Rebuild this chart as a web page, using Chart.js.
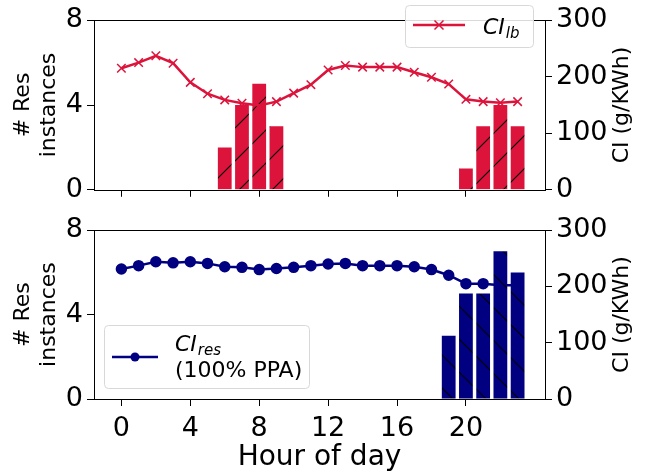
<!DOCTYPE html>
<html>
<head>
<meta charset="utf-8">
<script src="https://cdn.jsdelivr.net/npm/chart.js@4.4.0/dist/chart.umd.min.js"></script>
<style>
  html, body { margin: 0; padding: 0; background: #fff; }
  #wrap { position: relative; width: 662px; height: 472px; }
  canvas { position: absolute; left: 0; }
  #chartTop { top: 0; }
  #chartBottom { top: 210px; }
</style>
</head>
<body>
<div id="wrap">
  <canvas id="chartTop" width="662" height="210"></canvas>
  <canvas id="chartBottom" width="662" height="262"></canvas>
</div>
<script>
// ------- data -------
const hours = [0, 1, 2, 3, 4, 5, 6, 7, 8, 9, 10, 11, 12, 13, 14, 15, 16, 17, 18, 19, 20, 21, 22, 23]
const xTicks = [0, 4, 8, 12, 16, 20]
const countTicks = [0, 4, 8]
const ciTicks = [0, 100, 200, 300]

const lbInstances = [0, 0, 0, 0, 0, 0, 2, 4, 5, 3, 0, 0, 0, 0, 0, 0, 0, 0, 0, 0, 1, 3, 4, 3]
const lbCI = [215, 225, 237, 224, 190, 170, 159, 153, 149, 156, 171, 186, 212, 220, 217, 217, 217, 208, 199, 187, 160, 156, 154, 156]

const resInstances = [0, 0, 0, 0, 0, 0, 0, 0, 0, 0, 0, 0, 0, 0, 0, 0, 0, 0, 0, 3, 5, 5, 7, 6]
const resCI = [231, 237, 244, 242, 244, 241, 235, 234, 230, 232, 234, 237, 240, 241, 237, 237, 237, 235, 230, 220, 205, 205, 202, 202]

const CRIMSON = '#dc143c'
const NAVY = '#000080'

Chart.defaults.font.family = "'DejaVu Sans', sans-serif"
Chart.defaults.color = '#000'

// hatched fill, like matplotlib '/' and '\\'
function hatch(ctx, color, dir) {
  const P = 33
  const c = document.createElement('canvas')
  c.width = P
  c.height = P
  const g = c.getContext('2d')
  g.fillStyle = color
  g.fillRect(0, 0, P, P)
  g.strokeStyle = '#000'
  g.lineWidth = 1.1
  g.beginPath()
  for (const o of [-P, 0, P]) {
    if (dir === '/') { g.moveTo(o, P); g.lineTo(o + P, 0) }
    else { g.moveTo(o, 0); g.lineTo(o + P, P) }
  }
  g.stroke()
  return ctx.createPattern(c, 'repeat')
}

const pts = vals => hours.map((h, i) => ({ x: h, y: vals[i] }))

// frame, right axis title and the legend box
const decor = {
  id: 'decor',
  afterDraw(chart, args, o) {
    const { ctx, chartArea: a } = chart
    ctx.save()
    ctx.strokeStyle = '#000'
    ctx.lineWidth = 1
    ctx.strokeRect(Math.round(a.left) + 0.5, Math.round(a.top) + 0.5, Math.round(a.right - a.left), Math.round(a.bottom - a.top))

    // right title, reading upwards
    ctx.translate(622, (a.top + a.bottom) / 2)
    ctx.rotate(-Math.PI / 2)
    ctx.font = "22px 'DejaVu Sans'"
    ctx.fillStyle = '#000'
    ctx.textAlign = 'center'
    ctx.textBaseline = 'middle'
    ctx.fillText('CI (g/KWh)', 0, 0)
    ctx.restore()

    const L = o.legend
    ctx.save()
    ctx.beginPath()
    ctx.roundRect(L.x + 0.5, L.y + 0.5, L.w, L.h, 4)
    ctx.fillStyle = 'rgba(255,255,255,0.85)'
    ctx.fill()
    ctx.strokeStyle = '#d8d8d8'
    ctx.lineWidth = 1
    ctx.stroke()

    ctx.strokeStyle = L.color
    ctx.lineWidth = 2.5
    ctx.beginPath()
    ctx.moveTo(L.lx0, L.ly)
    ctx.lineTo(L.lx1, L.ly)
    ctx.stroke()
    const mx = (L.lx0 + L.lx1) / 2
    if (L.marker === 'x') {
      ctx.lineWidth = 1.5
      ctx.beginPath()
      ctx.moveTo(mx - 4.5, L.ly - 4.5); ctx.lineTo(mx + 4.5, L.ly + 4.5)
      ctx.moveTo(mx - 4.5, L.ly + 4.5); ctx.lineTo(mx + 4.5, L.ly - 4.5)
      ctx.stroke()
    } else {
      ctx.fillStyle = L.color
      ctx.beginPath()
      ctx.arc(mx, L.ly, 4.5, 0, Math.PI * 2)
      ctx.fill()
    }

    ctx.fillStyle = '#000'
    ctx.textBaseline = 'alphabetic'
    ctx.textAlign = 'left'
    ctx.font = "italic 22px 'DejaVu Sans'"
    ctx.fillText(L.text, L.tx, L.ty)
    const w = ctx.measureText(L.text).width
    ctx.font = "italic 15px 'DejaVu Sans'"
    ctx.fillText(L.sub, L.tx + w + 1, L.ty + 4)
    if (L.extra) {
      ctx.font = "22px 'DejaVu Sans'"
      ctx.fillText(L.extra, L.tx, L.ty + 26)
    }
    ctx.restore()
  }
}

function makeOptions(showX, padTop, xHeight, legend) {
  return {
    responsive: false,
    animation: false,
    events: [],
    layout: { padding: { top: padTop, left: 0, right: 0, bottom: 0 } },
    plugins: { legend: { display: false }, tooltip: { enabled: false }, decor: { legend } },
    scales: {
      x: {
        type: 'linear',
        min: -1.59,
        max: 24.59,
        offset: false,
        afterBuildTicks: s => { s.ticks = xTicks.map(v => ({ value: v })) },
        afterFit: s => { s.height = xHeight },
        grid: { offset: false, drawOnChartArea: false, drawTicks: true, tickLength: 7, color: '#000' },
        border: { display: false },
        ticks: { display: showX, font: { size: 27 }, padding: 7, maxRotation: 0, autoSkip: false },
        title: { display: showX, text: 'Hour of day', font: { size: 28 }, padding: { top: 0, bottom: -3 } }
      },
      y: {
        position: 'left',
        min: 0,
        max: 8,
        afterBuildTicks: s => { s.ticks = countTicks.map(v => ({ value: v })) },
        afterFit: s => { s.width = 94 },
        grid: { drawOnChartArea: false, drawTicks: true, tickLength: 7, color: '#000' },
        border: { display: false },
        ticks: { font: { size: 27 }, padding: 4 },
        title: { display: true, text: ['# Res', 'instances'], font: { size: 22 }, padding: { top: 10, bottom: 0 } }
      },
      y1: {
        position: 'right',
        min: 0,
        max: 300,
        afterBuildTicks: s => { s.ticks = ciTicks.map(v => ({ value: v })) },
        afterFit: s => { s.width = 117 },
        grid: { drawOnChartArea: false, drawTicks: true, tickLength: 7, color: '#000' },
        border: { display: false },
        ticks: { font: { size: 27 }, padding: 4 }
      }
    }
  }
}

const ctxTop = document.getElementById('chartTop').getContext('2d')
const ctxBottom = document.getElementById('chartBottom').getContext('2d')

const chartTop = new Chart(ctxTop, {
  type: 'bar',
  data: {
    datasets: [{
      type: 'line',
      label: 'CI_lb',
      data: pts(lbCI),
      yAxisID: 'y1',
      borderColor: CRIMSON,
      borderWidth: 2.5,
      pointStyle: 'crossRot',
      pointRadius: 6,
      pointBorderWidth: 1.5,
      pointBorderColor: CRIMSON,
      tension: 0,
      order: 0
    }, {
      label: 'Res instances',
      data: pts(lbInstances),
      yAxisID: 'y',
      backgroundColor: hatch(ctxTop, CRIMSON, '/'),
      borderWidth: 0,
      barPercentage: 0.8,
      categoryPercentage: 1,
      order: 1
    }]
  },
  options: makeOptions(false, 18, 20, {
    x: 405, y: 5, w: 128, h: 42, color: CRIMSON, marker: 'x',
    lx0: 413, lx1: 465, ly: 25, tx: 483, ty: 34, text: 'CI', sub: 'lb'
  }),
  plugins: [decor]
})

const chartBottom = new Chart(ctxBottom, {
  type: 'bar',
  data: {
    datasets: [{
      type: 'line',
      label: 'CI_res',
      data: pts(resCI),
      yAxisID: 'y1',
      borderColor: NAVY,
      borderWidth: 2.5,
      pointStyle: 'circle',
      pointRadius: 4.5,
      pointBackgroundColor: NAVY,
      pointBorderColor: NAVY,
      tension: 0,
      order: 1
    }, {
      label: 'Res instances',
      data: pts(resInstances),
      yAxisID: 'y',
      backgroundColor: hatch(ctxBottom, NAVY, '\\'),
      borderWidth: 0,
      barPercentage: 0.8,
      categoryPercentage: 1,
      order: 0
    }]
  },
  options: makeOptions(true, 16, 73, {
    x: 104, y: 115, w: 205, h: 63, color: NAVY, marker: 'o',
    lx0: 112, lx1: 158, ly: 147, tx: 175, ty: 141, text: 'CI', sub: 'res', extra: '(100% PPA)'
  }),
  plugins: [decor]
})
</script>
</body>
</html>
